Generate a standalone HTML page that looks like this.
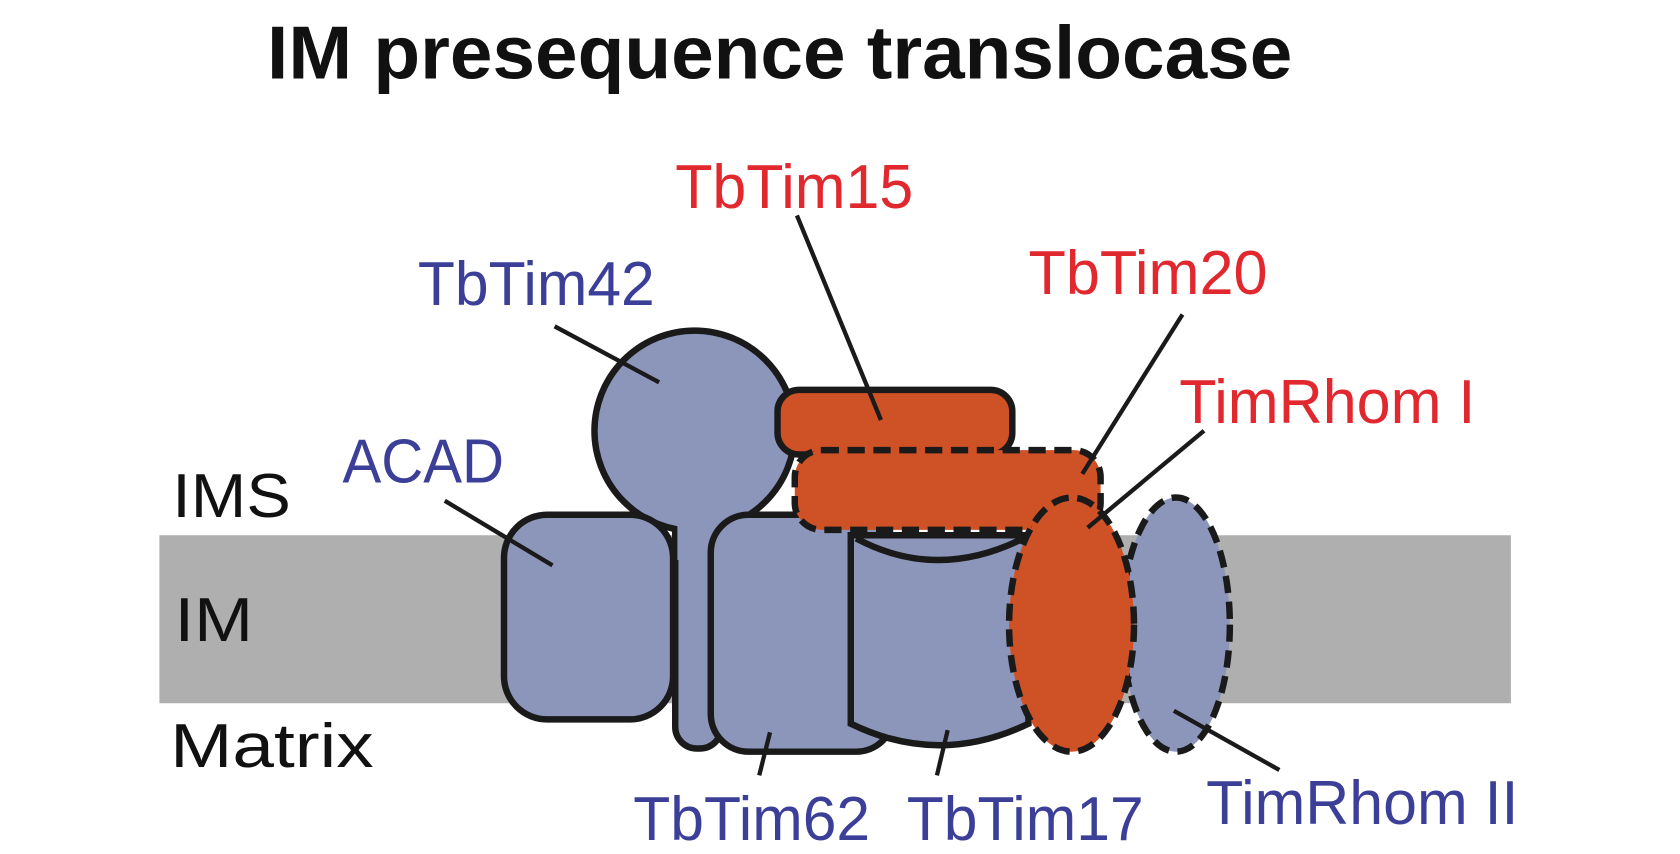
<!DOCTYPE html>
<html><head><meta charset="utf-8"><style>
html,body{margin:0;padding:0;background:#fff;}
svg{display:block;}
</style></head><body>
<svg width="1680" height="854" viewBox="0 0 1560 793" preserveAspectRatio="none" xmlns="http://www.w3.org/2000/svg">
<text x="248" y="73" textLength="952" lengthAdjust="spacingAndGlyphs" font-family="Liberation Sans, sans-serif" font-weight="bold" font-size="70" fill="#111">IM presequence translocase</text>
<rect x="148" y="497" width="1255" height="156" fill="#afafaf"/>
<g font-family="Liberation Sans, sans-serif" font-size="58" lengthAdjust="spacingAndGlyphs">
<text x="160" y="480" textLength="110" lengthAdjust="spacingAndGlyphs" fill="#111">IMS</text>
<text x="162" y="595" textLength="73" lengthAdjust="spacingAndGlyphs" fill="#111">IM</text>
<text x="158" y="712" textLength="189" lengthAdjust="spacingAndGlyphs" fill="#111">Matrix</text>
<g fill="#3b3f98">
<text x="318" y="448" textLength="150" lengthAdjust="spacingAndGlyphs">ACAD</text>
<text x="388" y="283" textLength="220" lengthAdjust="spacingAndGlyphs">TbTim42</text>
<text x="588" y="780" textLength="220" lengthAdjust="spacingAndGlyphs">TbTim62</text>
<text x="842" y="780" textLength="220" lengthAdjust="spacingAndGlyphs">TbTim17</text>
<text x="1120" y="765" textLength="290" lengthAdjust="spacingAndGlyphs">TimRhom II</text>
</g>
<g fill="#e0282e">
<text x="627" y="193" textLength="221" lengthAdjust="spacingAndGlyphs">TbTim15</text>
<text x="955" y="273" textLength="222" lengthAdjust="spacingAndGlyphs">TbTim20</text>
<text x="1095" y="393" textLength="275" lengthAdjust="spacingAndGlyphs">TimRhom I</text>
</g>
</g>
<g stroke="#1a1a1a" stroke-width="6" fill="#8b96ba">
<rect x="627" y="470" width="43" height="225" rx="20"/>
<circle cx="645" cy="400" r="93"/>
<rect x="629" y="480" width="39" height="40" stroke="none"/>
<rect x="468" y="478" width="157" height="190" rx="40"/>
<rect x="660" y="478" width="170" height="220" rx="35"/>
<path d="M790,497 L790,672 Q872,712 955,672 L955,497 Z"/>
<path d="M795,500 Q870,540 950,500" fill="none"/>
<rect x="722" y="362" width="218" height="60" rx="20" fill="#cf5126"/>
<rect x="738" y="418" width="284" height="74" rx="25" fill="#cf5126" stroke-dasharray="16,8"/>
<ellipse cx="1092" cy="580" rx="50" ry="118" stroke-dasharray="16,8"/>
<ellipse cx="995" cy="580" rx="58" ry="118" fill="#cf5126" stroke-dasharray="16,8"/>
</g>
<g stroke="#1a1a1a" stroke-width="4" fill="none">
<line x1="740" y1="200" x2="818" y2="390"/>
<line x1="515" y1="303" x2="612" y2="355"/>
<line x1="1098" y1="292" x2="1005" y2="440"/>
<line x1="1118" y1="400" x2="1010" y2="490"/>
<line x1="413" y1="465" x2="513" y2="525"/>
<line x1="715" y1="680" x2="705" y2="720"/>
<line x1="880" y1="678" x2="870" y2="720"/>
<line x1="1090" y1="660" x2="1188" y2="715"/>
</g>
</svg>
</body></html>
